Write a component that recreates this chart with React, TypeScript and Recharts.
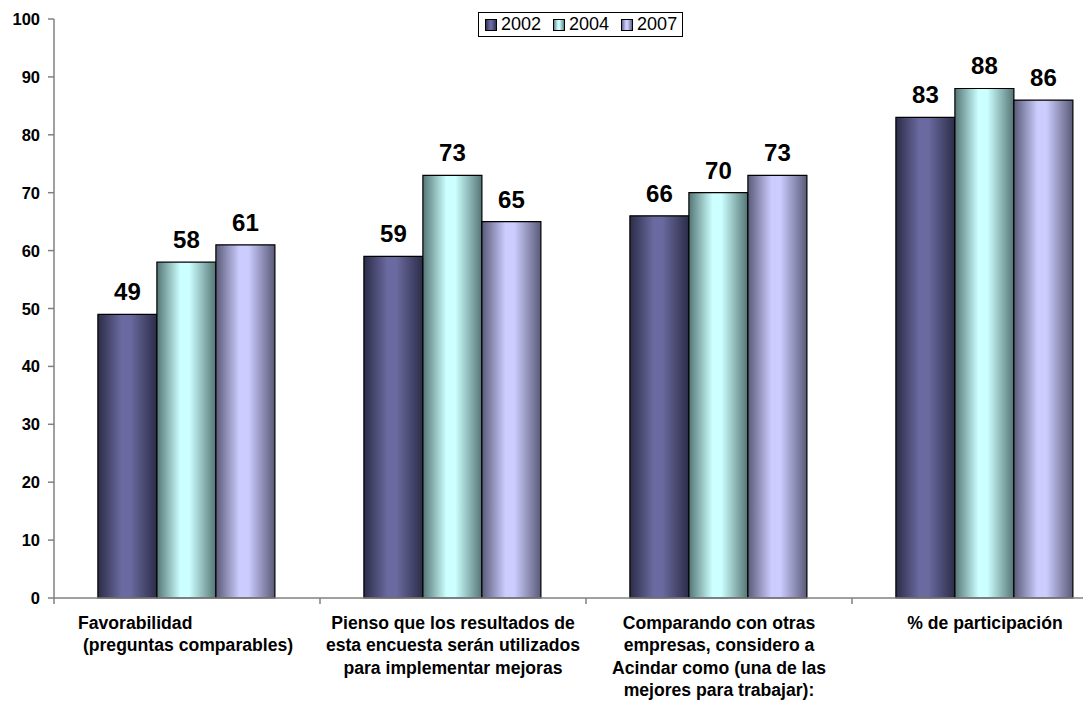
import {
  Bar,
  BarChart,
  LabelList,
  Legend,
  XAxis,
  YAxis,
} from "recharts";

const categories = [
  "Favorabilidad (preguntas comparables)",
  "Pienso que los resultados de esta encuesta serán utilizados para implementar mejoras",
  "Comparando con otras empresas, considero a Acindar como (una de las mejores para trabajar):",
  "% de participación",
];

// how excel wrapped the category text
const categoryLines = [
  ["Favorabilidad", " (preguntas comparables)"],
  [
    "Pienso que los resultados de",
    "esta encuesta serán utilizados",
    "para implementar mejoras",
  ],
  [
    "Comparando con otras",
    "empresas, considero a",
    "Acindar como (una de las",
    "mejores para trabajar):",
  ],
  ["% de participación"],
];

const years = ["2002", "2004", "2007"];
const values2002 = [49, 59, 66, 83];
const values2004 = [58, 73, 70, 88];
const values2007 = [61, 65, 73, 86];

const yTicks = [0, 10, 20, 30, 40, 50, 60, 70, 80, 90, 100];

const data = categories.map((name, i) => ({
  name,
  y2002: values2002[i],
  y2004: values2004[i],
  y2007: values2007[i],
}));

const FONT = "'Liberation Sans', Arial, sans-serif";
const CHART_W = 1118;
const CHART_H = 701;
const BAND = (CHART_W - 54) / categories.length;

const series = [
  { key: "y2002", name: years[0], grad: "g2002", edge: "#2c2c48", mid: "#6a6aa0" },
  { key: "y2004", name: years[1], grad: "g2004", edge: "#557575", mid: "#ccffff" },
  { key: "y2007", name: years[2], grad: "g2007", edge: "#5a5a78", mid: "#ccccff" },
];

function CategoryTick(props: any) {
  const { x, y, payload, index } = props;
  const idx = categories.indexOf(payload.value);
  const lines = categoryLines[idx] ?? [payload.value];
  const first = idx === 0;
  const tx = first ? x - 109 : x;
  return (
    <g>
      <line x1={x - BAND / 2} x2={x - BAND / 2} y1={y} y2={y + 6} stroke="#808080" strokeWidth={1.5} />
      {index === categories.length - 1 && (
        <line x1={x + BAND / 2} x2={x + BAND / 2} y1={y} y2={y + 6} stroke="#808080" strokeWidth={1.5} />
      )}
      <text
        x={tx}
        y={y}
        textAnchor={first ? "start" : "middle"}
        fontFamily={FONT}
        fontWeight="bold"
        fontSize={17.6}
        fill="#000"
        style={{ whiteSpace: "pre" }}
      >
        {lines.map((l, i) => (
          <tspan key={i} x={tx} dy={i === 0 ? 30.5 : 22.5}>
            {l}
          </tspan>
        ))}
      </text>
    </g>
  );
}

function ValueTick(props: any) {
  const { x, y, payload } = props;
  return (
    <text
      x={x}
      y={y}
      dy={6}
      textAnchor="end"
      fontFamily={FONT}
      fontWeight="bold"
      fontSize={16.5}
      fill="#000"
    >
      {payload.value}
    </text>
  );
}

function LegendBox() {
  return (
    <div
      style={{
        border: "1px solid #000",
        background: "#fff",
        display: "flex",
        alignItems: "center",
        height: 23,
        padding: "0 5px 0 6px",
        fontFamily: FONT,
        fontSize: 18,
        lineHeight: "21px",
        color: "#000",
      }}
    >
      {series.map((s, i) => (
        <div
          key={s.key}
          style={{ display: "flex", alignItems: "center", marginRight: i < series.length - 1 ? 12 : 0 }}
        >
          <svg width={12} height={12} style={{ marginRight: 4 }}>
            <rect x={0.5} y={0.5} width={11} height={11} fill={`url(#${s.grad})`} stroke="#000" />
          </svg>
          <span>{s.name}</span>
        </div>
      ))}
    </div>
  );
}

function App() {
  return (
    <div
      style={{
        position: "fixed",
        left: 0,
        top: 0,
        width: 1083,
        height: 701,
        overflow: "hidden",
        background: "#fff",
      }}
    >
      <BarChart
        width={CHART_W}
        height={CHART_H}
        data={data}
        margin={{ top: 19, right: 0, left: 0, bottom: 0 }}
        barCategoryGap="16.5%"
        barGap={0}
      >
        <defs>
          {series.map((s) => (
            <linearGradient key={s.grad} id={s.grad} x1="0" y1="0" x2="1" y2="0">
              <stop offset="0%" stopColor={s.edge} />
              <stop offset="40%" stopColor={s.mid} />
              <stop offset="55%" stopColor={s.mid} />
              <stop offset="100%" stopColor={s.edge} />
            </linearGradient>
          ))}
        </defs>
        <XAxis
          dataKey="name"
          height={103}
          interval={0}
          tickSize={0}
          tickMargin={0}
          tickLine={false}
          axisLine={{ stroke: "#808080", strokeWidth: 1.5 }}
          tick={<CategoryTick />}
        />
        <YAxis
          width={54}
          domain={[0, 100]}
          ticks={yTicks}
          interval={0}
          tickSize={6}
          tickMargin={8}
          axisLine={{ stroke: "#808080", strokeWidth: 1.5 }}
          tickLine={{ stroke: "#808080", strokeWidth: 1.5 }}
          tick={<ValueTick />}
        />
        <Legend
          layout="horizontal"
          verticalAlign="middle"
          align="center"
          content={<LegendBox />}
          wrapperStyle={{ top: 12, left: 478, width: "auto" }}
        />
        {series.map((s) => (
          <Bar
            key={s.key}
            dataKey={s.key}
            name={s.name}
            fill={`url(#${s.grad})`}
            stroke="#000"
            strokeWidth={1.2}
            isAnimationActive={false}
          >
            <LabelList
              dataKey={s.key}
              position="top"
              offset={14}
              fill="#000"
              fontFamily={FONT}
              fontWeight="bold"
              fontSize={24}
            />
          </Bar>
        ))}
      </BarChart>
    </div>
  );
}

export default App;
